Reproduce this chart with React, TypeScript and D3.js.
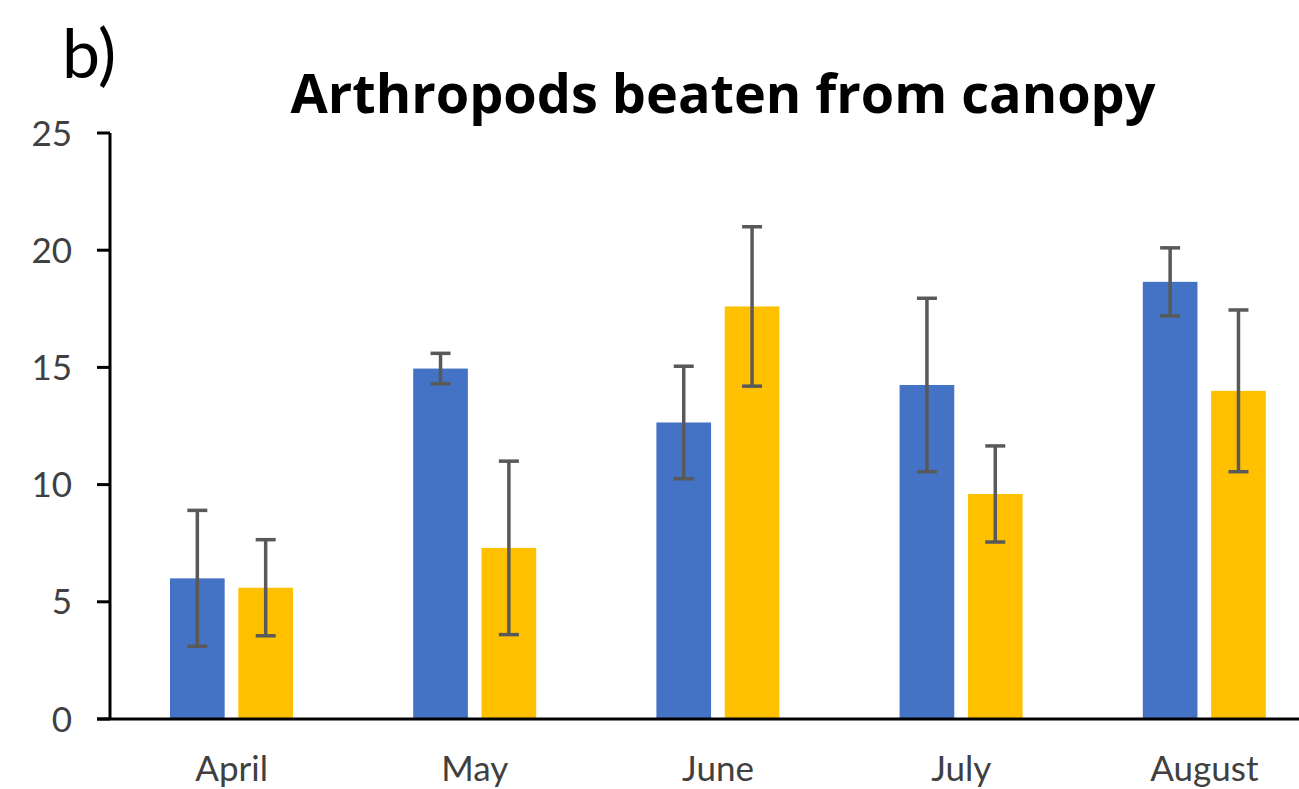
import * as d3 from 'd3'

const months = ['April', 'May', 'June', 'July', 'August']
const series = ['blue', 'yellow']
const blueMeans = [6.0, 14.95, 12.65, 14.25, 18.65]
const blueErr = [2.9, 0.65, 2.4, 3.7, 1.45]
const yellowMeans = [5.6, 7.3, 17.6, 9.6, 14.0]
const yellowErr = [2.05, 3.7, 3.4, 2.05, 3.45]
const yTicks = [0, 5, 10, 15, 20, 25]

const colors = { blue: '#4472C4', yellow: '#FFC000' }

const W = 1299
const H = 789
const font = 'Lato, "Open Sans", sans-serif'

export default function App() {
    const x = d3.scaleBand().domain(months).range([110, 1326]).paddingInner(0).paddingOuter(0)
    const inner = d3
        .scaleBand()
        .domain(series)
        .range([60, 183])
        .paddingInner(0.2)
        .paddingOuter(0)
    const y = d3.scaleLinear().domain([0, 25]).range([719, 133])

    const rows = months.flatMap((m, i) => [
        { m, s: 'blue', v: blueMeans[i], e: blueErr[i] },
        { m, s: 'yellow', v: yellowMeans[i], e: yellowErr[i] }
    ])

    return (
        <svg width={W} height={H} style={{ position: 'absolute', left: 0, top: 0, background: '#fff' }}>
            <text x={62} y={78} fontFamily={font} fontSize={68} fill="#000">
                b)
            </text>
            <text
                x={723}
                y={113}
                textAnchor="middle"
                fontFamily='"Open Sans", Lato, sans-serif'
                fontWeight="bold"
                fontSize={54}
                fill="#000"
            >
                Arthropods beaten from canopy
            </text>

            {/* bars */}
            {rows.map((d, i) => (
                <rect
                    key={'b' + i}
                    x={x(d.m) + inner(d.s)}
                    y={y(d.v)}
                    width={inner.bandwidth()}
                    height={y(0) - y(d.v)}
                    fill={colors[d.s]}
                />
            ))}

            {/* error bars */}
            {rows.map((d, i) => {
                const cx = x(d.m) + inner(d.s) + inner.bandwidth() / 2
                return (
                    <g key={'e' + i} stroke="#595959" strokeWidth={3.5}>
                        <line x1={cx} x2={cx} y1={y(d.v + d.e)} y2={y(d.v - d.e)} />
                        <line x1={cx - 10} x2={cx + 10} y1={y(d.v + d.e)} y2={y(d.v + d.e)} />
                        <line x1={cx - 10} x2={cx + 10} y1={y(d.v - d.e)} y2={y(d.v - d.e)} />
                    </g>
                )
            })}

            {/* y axis */}
            <line x1={110} x2={110} y1={y(25)} y2={y(0)} stroke="#000" strokeWidth={3} />
            {yTicks.map(t => (
                <g key={'t' + t}>
                    <line x1={97} x2={110} y1={y(t)} y2={y(t)} stroke="#000" strokeWidth={3} />
                    <text
                        x={72}
                        y={y(t)}
                        dy="0.36em"
                        textAnchor="end"
                        fontFamily={font}
                        fontSize={35}
                        fill="#404040"
                    >
                        {t}
                    </text>
                </g>
            ))}

            {/* x axis */}
            <line x1={97} x2={W} y1={y(0)} y2={y(0)} stroke="#000" strokeWidth={3} />
            {months.map(m => (
                <text
                    key={m}
                    x={x(m) + x.bandwidth() / 2}
                    y={781}
                    textAnchor="middle"
                    fontFamily={font}
                    fontSize={35}
                    fill="#404040"
                >
                    {m}
                </text>
            ))}
        </svg>
    )
}
